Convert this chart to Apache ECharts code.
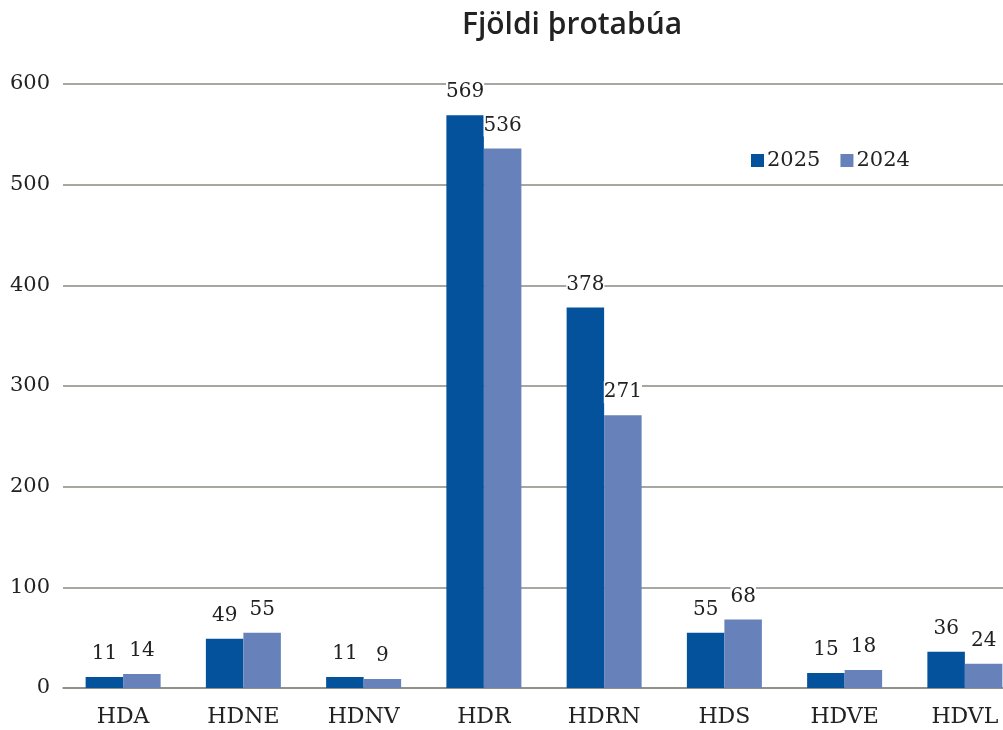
<!DOCTYPE html>
<html><head><meta charset="utf-8">
<script src="https://cdn.jsdelivr.net/npm/echarts@6/dist/echarts.min.js"></script>
<style>html,body{margin:0;padding:0;background:#fff}#c{width:1003px;height:730px}</style>
</head><body><div id="c"></div>
<script>
const categories = ['HDA','HDNE','HDNV','HDR','HDRN','HDS','HDVE','HDVL'];
const values2025 = [11,49,11,569,378,55,15,36];
const values2024 = [14,55,9,536,271,68,18,24];
const yTicks = [0,100,200,300,400,500,600];
const seriesNames = ['2025','2024'];

const serif = '"DejaVu Serif", Georgia, serif';
const labelStyle = {
  show: true, position: 'top', distance: 12,
  fontFamily: serif, fontSize: 20, color: '#222',
  backgroundColor: '#fff', padding: [1, 0]
};
const chart = echarts.init(document.getElementById('c'));
chart.setOption({
  animation: false,
  title: {
    text: 'Fjöldi þrotabúa', left: 567, top: 5, textAlign: 'center',
    textStyle: { fontFamily: '"Open Sans"', fontWeight: 600, fontSize: 30, color: '#222' }
  },
  legend: {
    data: seriesNames, left: 746, top: 145,
    itemWidth: 13, itemHeight: 13, itemGap: 20, icon: 'rect',
    textStyle: { fontFamily: serif, fontSize: 21, color: '#222', padding: [0, 0, 0, -2] }
  },
  grid: { left: 63, width: 962, top: 84, bottom: 42, containLabel: false, outerBoundsMode: 'none' },
  xAxis: {
    type: 'category', data: categories,
    axisLine: { show: true, lineStyle: { color: '#8a8a82', width: 1.5 } },
    axisTick: { show: false },
    axisLabel: { fontFamily: serif, fontSize: 22, color: '#222', margin: 18 }
  },
  yAxis: {
    type: 'value', min: yTicks[0], max: yTicks[yTicks.length - 1], interval: 100,
    axisLine: { show: false }, axisTick: { show: false },
    axisLabel: { fontFamily: serif, fontSize: 21, color: '#222', margin: 13 },
    splitLine: { lineStyle: { color: '#8a8a82', width: 1.5 } }
  },
  series: [
    { name: seriesNames[0], type: 'bar', data: values2025, barWidth: 37.5, barGap: '0%',
      itemStyle: { color: '#04529c' }, label: labelStyle },
    { name: seriesNames[1], type: 'bar', data: values2024, barWidth: 37.5, barGap: '0%',
      itemStyle: { color: '#6782bb' }, label: labelStyle }
  ]
});
</script></body></html>
